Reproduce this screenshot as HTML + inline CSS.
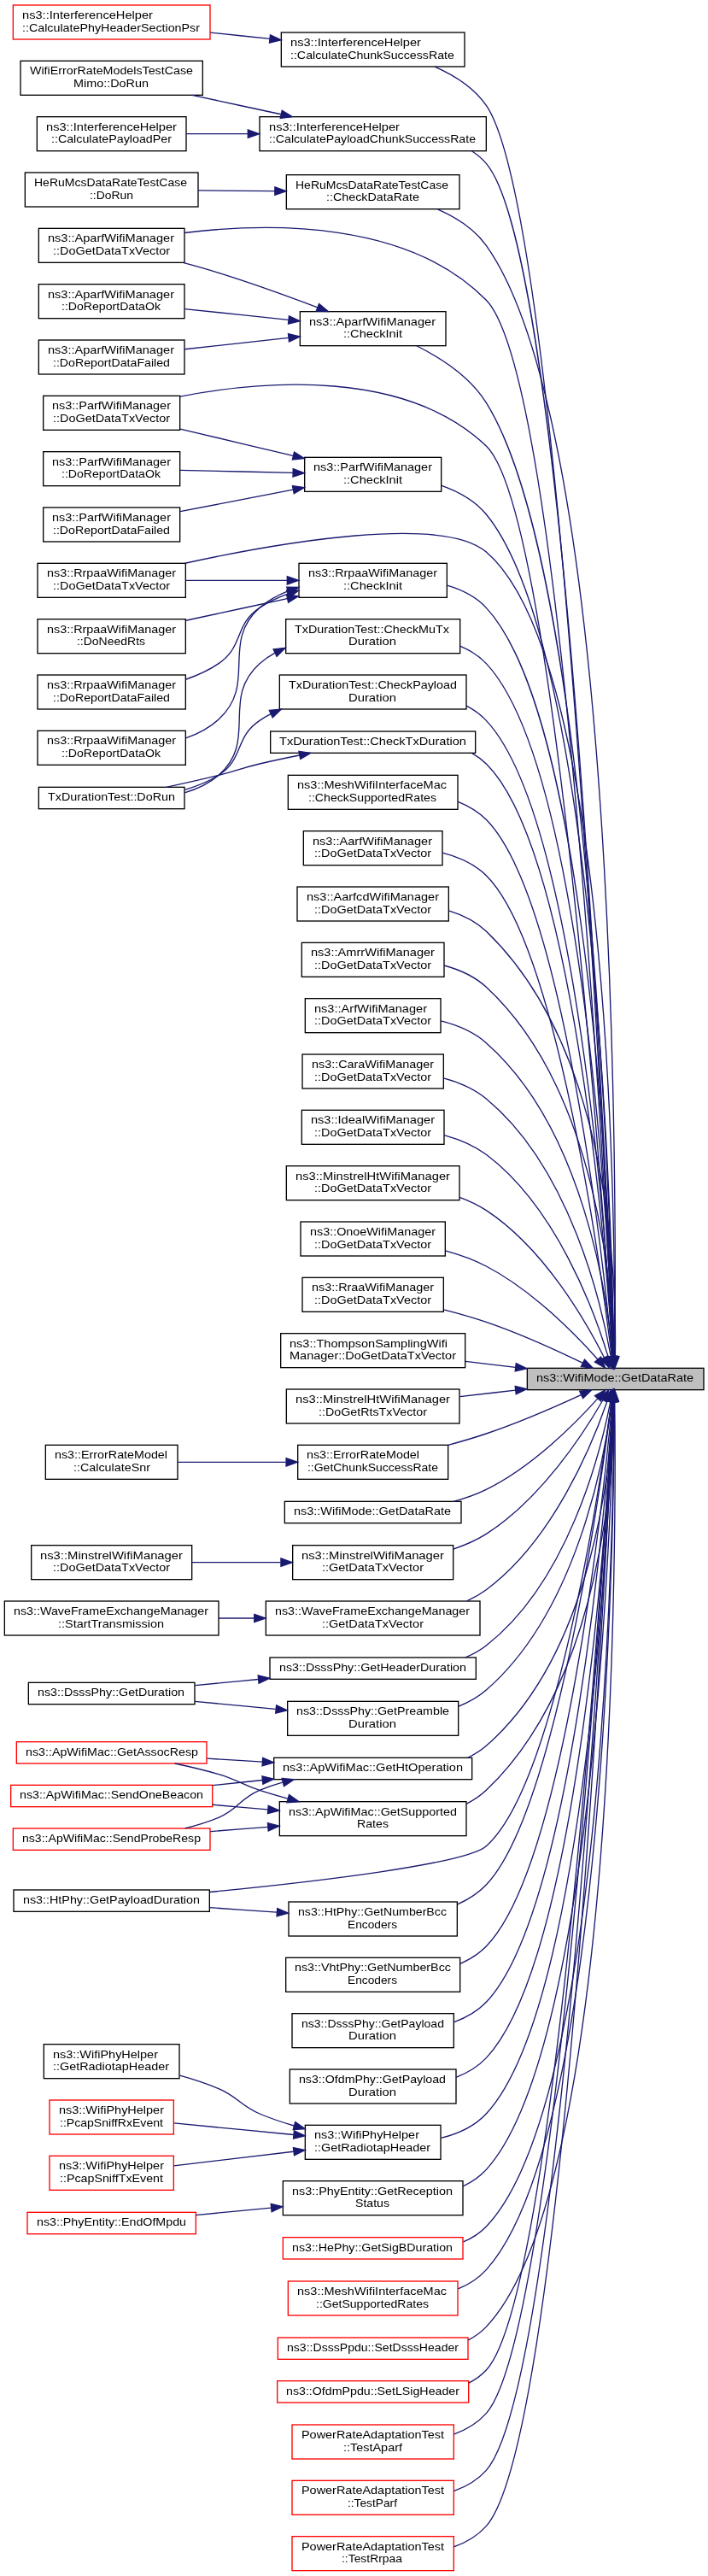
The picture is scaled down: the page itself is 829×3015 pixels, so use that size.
<!DOCTYPE html>
<html lang="en">
<head>
<meta charset="utf-8">
<title>ns3::WifiMode::GetDataRate &#8211; caller graph</title>
<style>
html,body{margin:0;padding:0;background:#fff}
body{width:829px;height:3015px}
/* own compositing layer -> grayscale (non-LCD) text antialiasing, like the cairo original */
svg{display:block;transform:translateZ(0);will-change:transform}
text{font-family:"Liberation Sans",sans-serif;font-size:10px;fill:#000}
.node rect{fill:#fff;stroke:#000;stroke-width:1}
.node.more rect{stroke:#f00}
.node.root rect{fill:#bfbfbf}
.edge path{fill:none;stroke:#191970;stroke-width:1}
.edge polygon{fill:#191970;stroke:#191970;stroke-width:1}
</style>
</head>
<body>
<svg width="829" height="3015" viewBox="0 0 621.75 2261.25">
<g transform="translate(4 2257)">
<g class="node root">
<rect x="459" y="-1056" width="155" height="19"/>
<text x="466.99" y="-1044" textLength="138.02" lengthAdjust="spacingAndGlyphs">ns3::WifiMode::GetDataRate</text>
</g>
<g class="node">
<rect x="243" y="-2228.5" width="161" height="30"/>
<text x="251" y="-2216.5" textLength="114.75" lengthAdjust="spacingAndGlyphs">ns3::InterferenceHelper</text>
<text x="250.99" y="-2205.5" textLength="144.01" lengthAdjust="spacingAndGlyphs">::CalculateChunkSuccessRate</text>
</g>
<g class="edge"><path d="M534.64,-1066.56C528.37,-1209.48 488.06,-2070.36 423,-2164.5 412.2,-2180.13 394.91,-2191.02 377.81,-2198.48"/><polygon points="538.15,-1066.39 535.09,-1056.24 531.16,-1066.08 538.15,-1066.39"/></g>
<g class="node">
<rect x="224" y="-2154.5" width="199" height="30"/>
<text x="232.25" y="-2142.5" textLength="114.75" lengthAdjust="spacingAndGlyphs">ns3::InterferenceHelper</text>
<text x="232.25" y="-2131.5" textLength="181.5" lengthAdjust="spacingAndGlyphs">::CalculatePayloadChunkSuccessRate</text>
</g>
<g class="edge"><path d="M534.75,-1066.22C529.31,-1204.91 494.06,-2030.64 423,-2113.5 419.32,-2117.8 415.01,-2121.42 410.31,-2124.48"/><polygon points="538.25,-1066.31 535.14,-1056.18 531.25,-1066.04 538.25,-1066.31"/></g>
<g class="node">
<rect x="247.5" y="-2103.5" width="152" height="30"/>
<text x="255.5" y="-2091.5" textLength="134.26" lengthAdjust="spacingAndGlyphs">HeRuMcsDataRateTestCase</text>
<text x="282.49" y="-2080.5" textLength="81.77" lengthAdjust="spacingAndGlyphs">::CheckDataRate</text>
</g>
<g class="edge"><path d="M535.8,-1066.36C537.33,-1192.05 540.15,-1877.09 423,-2041.5 412.61,-2056.08 396.47,-2066.3 380.24,-2073.4"/><polygon points="539.3,-1066.21 535.66,-1056.25 532.3,-1066.3 539.3,-1066.21"/></g>
<g class="node">
<rect x="259.5" y="-1983.5" width="128" height="30"/>
<text x="267.49" y="-1971.5" textLength="111.01" lengthAdjust="spacingAndGlyphs">ns3::AparfWifiManager</text>
<text x="297.49" y="-1960.5" textLength="51.76" lengthAdjust="spacingAndGlyphs">::CheckInit</text>
</g>
<g class="edge"><path d="M535.1,-1066.19C532.45,-1180.32 514.66,-1756.98 423,-1903.5 408.77,-1926.25 383.31,-1942.74 361.84,-1953.42"/><polygon points="538.6,-1066.18 535.32,-1056.1 531.6,-1066.02 538.6,-1066.18"/></g>
<g class="node">
<rect x="30" y="-2056.5" width="128" height="30"/>
<text x="37.99" y="-2044.5" textLength="111.01" lengthAdjust="spacingAndGlyphs">ns3::AparfWifiManager</text>
<text x="42.49" y="-2033.5" textLength="102.76" lengthAdjust="spacingAndGlyphs">::DoGetDataTxVector</text>
</g>
<g class="edge"><path d="M534.58,-1066.03C528.35,-1195.28 490.33,-1924.33 423,-1993.5 354.76,-2063.61 232.51,-2061.77 158.08,-2052.63"/><polygon points="538.08,-1066.16 535.06,-1056 531.09,-1065.83 538.08,-1066.16"/></g>
<g class="node">
<rect x="263.5" y="-1855.5" width="120" height="30"/>
<text x="271.24" y="-1843.5" textLength="104.26" lengthAdjust="spacingAndGlyphs">ns3::ParfWifiManager</text>
<text x="297.49" y="-1832.5" textLength="51.76" lengthAdjust="spacingAndGlyphs">::CheckInit</text>
</g>
<g class="edge"><path d="M535.24,-1066.24C533.45,-1173.72 519.85,-1687.74 423,-1805.5 413.03,-1817.62 398.55,-1825.55 383.75,-1830.73"/><polygon points="538.74,-1066.21 535.39,-1056.15 531.74,-1066.1 538.74,-1066.21"/></g>
<g class="node">
<rect x="34" y="-1909.5" width="120" height="30"/>
<text x="41.74" y="-1897.5" textLength="104.26" lengthAdjust="spacingAndGlyphs">ns3::ParfWifiManager</text>
<text x="42.49" y="-1886.5" textLength="102.76" lengthAdjust="spacingAndGlyphs">::DoGetDataTxVector</text>
</g>
<g class="edge"><path d="M534.24,-1066.31C526.43,-1185.88 483.08,-1808.25 423,-1865.5 351.61,-1933.52 227.5,-1923.04 154.14,-1908.97"/><polygon points="537.75,-1066.28 534.9,-1056.07 530.76,-1065.83 537.75,-1066.28"/></g>
<g class="node">
<rect x="258.5" y="-1762.5" width="130" height="30"/>
<text x="266.74" y="-1750.5" textLength="113.26" lengthAdjust="spacingAndGlyphs">ns3::RrpaaWifiManager</text>
<text x="297.49" y="-1739.5" textLength="51.76" lengthAdjust="spacingAndGlyphs">::CheckInit</text>
</g>
<g class="edge"><path d="M535.05,-1066.45C532.34,-1167.77 515.1,-1624.28 423,-1723.5 413.9,-1733.3 401.52,-1739.4 388.61,-1743.13"/><polygon points="538.55,-1066.45 535.3,-1056.36 531.55,-1066.27 538.55,-1066.45"/></g>
<g class="node">
<rect x="29" y="-1762.5" width="130" height="30"/>
<text x="37.24" y="-1750.5" textLength="113.26" lengthAdjust="spacingAndGlyphs">ns3::RrpaaWifiManager</text>
<text x="42.49" y="-1739.5" textLength="102.76" lengthAdjust="spacingAndGlyphs">::DoGetDataTxVector</text>
</g>
<g class="edge"><path d="M535.71,-1066.31C536.4,-1172.99 533.73,-1677.61 423,-1772.5 384.62,-1805.39 242.52,-1780.85 158.46,-1762.57"/><polygon points="539.21,-1066.25 535.63,-1056.28 532.21,-1066.31 539.21,-1066.25"/></g>
<g class="node">
<rect x="247" y="-1713.5" width="153" height="30"/>
<text x="254.75" y="-1701.5" textLength="135.75" lengthAdjust="spacingAndGlyphs">TxDurationTest::CheckMuTx</text>
<text x="301.97" y="-1690.5" textLength="42.06" lengthAdjust="spacingAndGlyphs">Duration</text>
</g>
<g class="edge"><path d="M534.78,-1066.21C530.83,-1162.57 508.84,-1583.19 423,-1674.5 416.61,-1681.3 408.64,-1686.31 400.03,-1689.98"/><polygon points="538.28,-1066.24 535.17,-1056.11 531.28,-1065.96 538.28,-1066.24"/></g>
<g class="node">
<rect x="241.5" y="-1664.5" width="164" height="30"/>
<text x="249.5" y="-1652.5" textLength="147.75" lengthAdjust="spacingAndGlyphs">TxDurationTest::CheckPayload</text>
<text x="301.97" y="-1641.5" textLength="42.06" lengthAdjust="spacingAndGlyphs">Duration</text>
</g>
<g class="edge"><path d="M534.42,-1066.34C529.01,-1158.17 501.96,-1540.96 423,-1624.5 418.03,-1629.76 412.13,-1633.97 405.72,-1637.34"/><polygon points="537.92,-1066.39 535,-1056.2 530.93,-1065.99 537.92,-1066.39"/></g>
<g class="node">
<rect x="249" y="-1576.5" width="149" height="30"/>
<text x="257" y="-1564.5" textLength="131.27" lengthAdjust="spacingAndGlyphs">ns3::MeshWifiInterfaceMac</text>
<text x="266.74" y="-1553.5" textLength="112.51" lengthAdjust="spacingAndGlyphs">::CheckSupportedRates</text>
</g>
<g class="edge"><path d="M533.69,-1066.46C525.73,-1149.74 491.18,-1468.37 423,-1537.5 416.08,-1544.52 407.47,-1549.61 398.25,-1553.29"/><polygon points="537.19,-1066.61 534.63,-1056.32 530.22,-1065.95 537.19,-1066.61"/></g>
<g class="node">
<rect x="233.5" y="-1615" width="180" height="19"/>
<text x="241.25" y="-1603" textLength="164.25" lengthAdjust="spacingAndGlyphs">TxDurationTest::CheckTxDuration</text>
</g>
<g class="edge"><path d="M534.24,-1066.24C528.22,-1154.42 499.38,-1511.24 423,-1586.5 419.28,-1590.17 415.08,-1593.24 410.56,-1595.8"/><polygon points="537.75,-1066.25 534.92,-1056.04 530.77,-1065.78 537.75,-1066.25"/></g>
<g class="node">
<rect x="262.5" y="-1527.5" width="122" height="30"/>
<text x="270.49" y="-1515.5" textLength="105.01" lengthAdjust="spacingAndGlyphs">ns3::AarfWifiManager</text>
<text x="271.99" y="-1504.5" textLength="102.76" lengthAdjust="spacingAndGlyphs">::DoGetDataTxVector</text>
</g>
<g class="edge"><path d="M533.15,-1066.42C523.56,-1144.33 484.96,-1427.17 423,-1488.5 412.68,-1498.72 398.78,-1504.84 384.68,-1508.45"/><polygon points="536.67,-1066.45 534.4,-1056.1 529.72,-1065.61 536.67,-1066.45"/></g>
<g class="node">
<rect x="257" y="-1478.5" width="133" height="30"/>
<text x="265.25" y="-1466.5" textLength="116.25" lengthAdjust="spacingAndGlyphs">ns3::AarfcdWifiManager</text>
<text x="271.99" y="-1455.5" textLength="102.76" lengthAdjust="spacingAndGlyphs">::DoGetDataTxVector</text>
</g>
<g class="edge"><path d="M536.26,-1066.54C537.53,-1130.92 532.35,-1334.41 423,-1439.5 413.93,-1448.22 402.24,-1453.94 390.1,-1457.66"/><polygon points="539.75,-1066.09 535.97,-1056.19 532.75,-1066.28 539.75,-1066.09"/></g>
<g class="node">
<rect x="261" y="-1429.5" width="125" height="30"/>
<text x="268.99" y="-1417.5" textLength="108.76" lengthAdjust="spacingAndGlyphs">ns3::AmrrWifiManager</text>
<text x="271.99" y="-1406.5" textLength="102.76" lengthAdjust="spacingAndGlyphs">::DoGetDataTxVector</text>
</g>
<g class="edge"><path d="M535.31,-1066.35C533.62,-1125.25 520.26,-1300.46 423,-1390.5 412.8,-1399.95 399.51,-1405.85 386.02,-1409.49"/><polygon points="538.81,-1066.25 535.51,-1056.19 531.81,-1066.11 538.81,-1066.25"/></g>
<g class="node">
<rect x="264" y="-1380.5" width="119" height="30"/>
<text x="271.99" y="-1368.5" textLength="99.01" lengthAdjust="spacingAndGlyphs">ns3::ArfWifiManager</text>
<text x="271.99" y="-1357.5" textLength="102.76" lengthAdjust="spacingAndGlyphs">::DoGetDataTxVector</text>
</g>
<g class="edge"><path d="M534.09,-1066.31C529.19,-1119.48 508.22,-1266.35 423,-1341.5 411.91,-1351.28 397.49,-1357.22 383.13,-1360.8"/><polygon points="537.59,-1066.44 534.92,-1056.19 530.61,-1065.87 537.59,-1066.44"/></g>
<g class="node">
<rect x="261.5" y="-1331.5" width="124" height="30"/>
<text x="269.74" y="-1319.5" textLength="107.26" lengthAdjust="spacingAndGlyphs">ns3::CaraWifiManager</text>
<text x="271.99" y="-1308.5" textLength="102.76" lengthAdjust="spacingAndGlyphs">::DoGetDataTxVector</text>
</g>
<g class="edge"><path d="M532.45,-1066.11C524.11,-1112.93 496.42,-1231.85 423,-1292.5 412.35,-1301.3 398.97,-1306.96 385.53,-1310.58"/><polygon points="535.94,-1066.51 534.14,-1056.07 529.03,-1065.36 535.94,-1066.51"/></g>
<g class="node">
<rect x="261" y="-1282.5" width="125" height="30"/>
<text x="268.99" y="-1270.5" textLength="108.76" lengthAdjust="spacingAndGlyphs">ns3::IdealWifiManager</text>
<text x="271.99" y="-1259.5" textLength="102.76" lengthAdjust="spacingAndGlyphs">::DoGetDataTxVector</text>
</g>
<g class="edge"><path d="M530.12,-1065.92C518.03,-1105.77 484.83,-1196.94 423,-1243.5 412.24,-1251.6 399.12,-1257 386.01,-1260.6"/><polygon points="533.53,-1066.7 532.97,-1056.12 526.81,-1064.74 533.53,-1066.7"/></g>
<g class="node">
<rect x="247.5" y="-1233.5" width="152" height="30"/>
<text x="255.5" y="-1221.5" textLength="135.75" lengthAdjust="spacingAndGlyphs">ns3::MinstrelHtWifiManager</text>
<text x="271.99" y="-1210.5" textLength="102.76" lengthAdjust="spacingAndGlyphs">::DoGetDataTxVector</text>
</g>
<g class="edge"><path d="M526.57,-1065.4C510.51,-1097.23 473.67,-1161.31 423,-1194.5 415.86,-1199.18 407.89,-1202.94 399.66,-1205.98"/><polygon points="529.78,-1066.8 531.04,-1056.28 523.5,-1063.72 529.78,-1066.8"/></g>
<g class="node">
<rect x="260" y="-1184.5" width="127" height="30"/>
<text x="268.24" y="-1172.5" textLength="110.26" lengthAdjust="spacingAndGlyphs">ns3::OnoeWifiManager</text>
<text x="271.99" y="-1161.5" textLength="102.76" lengthAdjust="spacingAndGlyphs">::DoGetDataTxVector</text>
</g>
<g class="edge"><path d="M520.86,-1063.76C500.99,-1086.06 463.3,-1124.5 423,-1145.5 411.92,-1151.27 399.41,-1155.69 387.11,-1159.06"/><polygon points="523.63,-1065.91 527.57,-1056.08 518.36,-1061.31 523.63,-1065.91"/></g>
<g class="node">
<rect x="261.5" y="-1135.5" width="124" height="30"/>
<text x="269.74" y="-1123.5" textLength="107.26" lengthAdjust="spacingAndGlyphs">ns3::RraaWifiManager</text>
<text x="271.99" y="-1112.5" textLength="102.76" lengthAdjust="spacingAndGlyphs">::DoGetDataTxVector</text>
</g>
<g class="edge"><path d="M507.55,-1060.61C485.13,-1071.51 452.6,-1086.41 423,-1096.5 411.09,-1100.56 398.15,-1104.23 385.68,-1107.4"/><polygon points="509.38,-1063.61 516.81,-1056.05 506.29,-1057.33 509.38,-1063.61"/></g>
<g class="node">
<rect x="242.5" y="-1086.5" width="162" height="30"/>
<text x="250.24" y="-1074.5" textLength="138.77" lengthAdjust="spacingAndGlyphs">ns3::ThompsonSamplingWifi</text>
<text x="250.25" y="-1063.5" textLength="146.25" lengthAdjust="spacingAndGlyphs">Manager::DoGetDataTxVector</text>
</g>
<g class="edge"><path d="M448.74,-1056.78C434.19,-1058.5 419.15,-1060.29 404.76,-1061.99"/><polygon points="449.21,-1060.25 458.73,-1055.6 448.38,-1053.3 449.21,-1060.25"/></g>
<g class="node">
<rect x="247.5" y="-1037.5" width="152" height="30"/>
<text x="255.5" y="-1025.5" textLength="135.75" lengthAdjust="spacingAndGlyphs">ns3::MinstrelHtWifiManager</text>
<text x="275.74" y="-1014.5" textLength="95.26" lengthAdjust="spacingAndGlyphs">::DoGetRtsTxVector</text>
</g>
<g class="edge"><path d="M448.72,-1036.63C432.49,-1034.78 415.65,-1032.87 399.8,-1031.07"/><polygon points="448.4,-1040.11 458.73,-1037.77 449.19,-1033.16 448.4,-1040.11"/></g>
<g class="node">
<rect x="257.5" y="-988.5" width="132" height="30"/>
<text x="265.24" y="-976.5" textLength="99.02" lengthAdjust="spacingAndGlyphs">ns3::ErrorRateModel</text>
<text x="265.99" y="-965.5" textLength="114.77" lengthAdjust="spacingAndGlyphs">::GetChunkSuccessRate</text>
</g>
<g class="edge"><path d="M506.25,-1032.54C483.82,-1022.2 451.91,-1008.27 423,-998.5 412.3,-994.88 400.8,-991.51 389.56,-988.49"/><polygon points="505,-1035.82 515.54,-1036.87 507.96,-1029.47 505,-1035.82"/></g>
<g class="node">
<rect x="246" y="-939" width="155" height="19"/>
<text x="253.99" y="-927" textLength="138.02" lengthAdjust="spacingAndGlyphs">ns3::WifiMode::GetDataRate</text>
</g>
<g class="edge"><path d="M520.9,-1029.36C501.08,-1007.27 463.45,-969.34 423,-949.5 414.07,-945.12 404.23,-941.7 394.34,-939.03"/><polygon points="518.37,-1031.78 527.6,-1036.98 523.63,-1027.16 518.37,-1031.78"/></g>
<g class="node">
<rect x="253" y="-900.5" width="141" height="30"/>
<text x="260.75" y="-888.5" textLength="125.25" lengthAdjust="spacingAndGlyphs">ns3::MinstrelWifiManager</text>
<text x="278.74" y="-877.5" textLength="89.26" lengthAdjust="spacingAndGlyphs">::GetDataTxVector</text>
</g>
<g class="edge"><path d="M525.42,-1027.95C508.36,-998.38 470.93,-940.82 423,-910.5 414.2,-904.93 404.23,-900.61 394.09,-897.24"/><polygon points="522.45,-1029.82 530.41,-1036.83 528.56,-1026.39 522.45,-1029.82"/></g>
<g class="node">
<rect x="229.5" y="-851.5" width="188" height="30"/>
<text x="237.5" y="-839.5" textLength="171" lengthAdjust="spacingAndGlyphs">ns3::WaveFrameExchangeManager</text>
<text x="278.74" y="-828.5" textLength="89.26" lengthAdjust="spacingAndGlyphs">::GetDataTxVector</text>
</g>
<g class="edge"><path d="M529.19,-1026.75C515.96,-988.62 481.6,-904.82 423,-861.5 417.75,-857.62 411.96,-854.34 405.9,-851.57"/><polygon points="526,-1028.25 532.49,-1036.62 532.64,-1026.03 526,-1028.25"/></g>
<g class="node">
<rect x="233" y="-802" width="181" height="19"/>
<text x="241.24" y="-790" textLength="164.26" lengthAdjust="spacingAndGlyphs">ns3::DsssPhy::GetHeaderDuration</text>
</g>
<g class="edge"><path d="M532.11,-1026.71C523.18,-981.11 494.63,-868.27 423,-812.5 417.49,-808.21 411.3,-804.78 404.77,-802.03"/><polygon points="528.66,-1027.36 533.92,-1036.55 535.55,-1026.08 528.66,-1027.36"/></g>
<g class="node">
<rect x="236.5" y="-714" width="174" height="19"/>
<text x="244.24" y="-702" textLength="158.26" lengthAdjust="spacingAndGlyphs">ns3::ApWifiMac::GetHtOperation</text>
</g>
<g class="edge"><path d="M534.97,-1026.61C532.31,-969.88 516.5,-806.09 423,-724.5 418.14,-720.25 412.62,-716.82 406.74,-714.05"/><polygon points="531.48,-1026.89 535.35,-1036.75 538.47,-1026.63 531.48,-1026.89"/></g>
<g class="node">
<rect x="249.5" y="-587.5" width="148" height="30"/>
<text x="257.75" y="-575.5" textLength="130.5" lengthAdjust="spacingAndGlyphs">ns3::HtPhy::GetNumberBcc</text>
<text x="301.24" y="-564.5" textLength="43.53" lengthAdjust="spacingAndGlyphs">Encoders</text>
</g>
<g class="edge"><path d="M533.06,-1026.59C523.13,-948.71 483.42,-665.86 423,-602.5 415.97,-595.13 407.18,-589.55 397.78,-585.33"/><polygon points="529.64,-1027.42 534.35,-1036.91 536.58,-1026.55 529.64,-1027.42"/></g>
<g class="node">
<rect x="8" y="-598" width="172" height="19"/>
<text x="16.24" y="-586" textLength="155.26" lengthAdjust="spacingAndGlyphs">ns3::HtPhy::GetPayloadDuration</text>
</g>
<g class="edge"><path d="M532.89,-1026.43C522.76,-951.54 483.49,-690 423,-636.5 405.03,-620.61 271.31,-605.05 180.25,-596.14"/><polygon points="529.48,-1027.33 534.27,-1036.78 536.42,-1026.41 529.48,-1027.33"/></g>
<g class="node">
<rect x="247" y="-538.5" width="153" height="30"/>
<text x="254.74" y="-526.5" textLength="137.26" lengthAdjust="spacingAndGlyphs">ns3::VhtPhy::GetNumberBcc</text>
<text x="301.24" y="-515.5" textLength="43.53" lengthAdjust="spacingAndGlyphs">Encoders</text>
</g>
<g class="edge"><path d="M533.76,-1026.81C526,-943.28 491.81,-619.15 423,-548.5 416.6,-541.93 408.73,-536.99 400.26,-533.3"/><polygon points="530.29,-1027.31 534.68,-1036.95 537.26,-1026.68 530.29,-1027.31"/></g>
<g class="node">
<rect x="252.5" y="-489.5" width="142" height="30"/>
<text x="260.74" y="-477.5" textLength="125.27" lengthAdjust="spacingAndGlyphs">ns3::DsssPhy::GetPayload</text>
<text x="301.97" y="-466.5" textLength="42.06" lengthAdjust="spacingAndGlyphs">Duration</text>
</g>
<g class="edge"><path d="M534.2,-1026.88C527.93,-938.49 498.07,-578.08 423,-499.5 415.32,-491.46 405.46,-485.87 394.95,-482"/><polygon points="530.71,-1027.16 534.89,-1036.89 537.69,-1026.68 530.71,-1027.16"/></g>
<g class="node">
<rect x="250.5" y="-440.5" width="146" height="30"/>
<text x="258.49" y="-428.5" textLength="129.02" lengthAdjust="spacingAndGlyphs">ns3::OfdmPhy::GetPayload</text>
<text x="301.97" y="-417.5" textLength="42.06" lengthAdjust="spacingAndGlyphs">Duration</text>
</g>
<g class="edge"><path d="M534.56,-1026.93C529.69,-933.88 504.34,-537.05 423,-450.5 415.75,-442.79 406.49,-437.32 396.56,-433.46"/><polygon points="531.06,-1027.14 535.06,-1036.95 538.05,-1026.78 531.06,-1027.14"/></g>
<g class="node">
<rect x="248.5" y="-763.5" width="150" height="30"/>
<text x="256.24" y="-751.5" textLength="134.26" lengthAdjust="spacingAndGlyphs">ns3::DsssPhy::GetPreamble</text>
<text x="301.97" y="-740.5" textLength="42.06" lengthAdjust="spacingAndGlyphs">Duration</text>
</g>
<g class="edge"><path d="M533.34,-1026.53C526.79,-976.03 502.42,-842.35 423,-773.5 415.93,-767.37 407.57,-762.71 398.75,-759.17"/><polygon points="529.9,-1027.24 534.57,-1036.75 536.85,-1026.4 529.9,-1027.24"/></g>
<g class="node">
<rect x="264" y="-391.5" width="119" height="30"/>
<text x="271.99" y="-379.5" textLength="92.26" lengthAdjust="spacingAndGlyphs">ns3::WifiPhyHelper</text>
<text x="271.99" y="-368.5" textLength="102.01" lengthAdjust="spacingAndGlyphs">::GetRadiotapHeader</text>
</g>
<g class="edge"><path d="M534.85,-1026.58C531.24,-928.29 510.52,-495.93 423,-401.5 412.63,-390.31 398.02,-383.82 383.22,-380.15"/><polygon points="531.35,-1026.77 535.2,-1036.64 538.35,-1026.53 531.35,-1026.77"/></g>
<g class="node">
<rect x="244.5" y="-342.5" width="158" height="30"/>
<text x="252.49" y="-330.5" textLength="141.02" lengthAdjust="spacingAndGlyphs">ns3::PhyEntity::GetReception</text>
<text x="307.98" y="-319.5" textLength="30.06" lengthAdjust="spacingAndGlyphs">Status</text>
</g>
<g class="edge"><path d="M535.12,-1026.72C532.76,-924.3 516.86,-454.99 423,-352.5 417.28,-346.25 410.24,-341.47 402.58,-337.82"/><polygon points="531.63,-1026.96 535.34,-1036.89 538.62,-1026.81 531.63,-1026.96"/></g>
<g class="node more">
<rect x="244.5" y="-293" width="158" height="19"/>
<text x="252.49" y="-281" textLength="141.02" lengthAdjust="spacingAndGlyphs">ns3::HePhy::GetSigBDuration</text>
</g>
<g class="edge"><path d="M535.46,-1026.55C534.85,-919.12 526.45,-410.23 423,-302.5 417.33,-296.6 410.42,-292.22 402.92,-289.01"/><polygon points="531.96,-1026.67 535.5,-1036.66 538.96,-1026.64 531.96,-1026.67"/></g>
<g class="node">
<rect x="241.5" y="-675.5" width="164" height="30"/>
<text x="249.49" y="-663.5" textLength="147.77" lengthAdjust="spacingAndGlyphs">ns3::ApWifiMac::GetSupported</text>
<text x="309.45" y="-652.5" textLength="27.84" lengthAdjust="spacingAndGlyphs">Rates</text>
</g>
<g class="edge"><path d="M535.63,-1026.93C534.9,-966.53 524.16,-781.38 423,-685.5 417.88,-680.65 411.95,-676.7 405.6,-673.49"/><polygon points="532.13,-1027.01 535.66,-1036.99 539.13,-1026.98 532.13,-1027.01"/></g>
<g class="node more">
<rect x="249" y="-254.5" width="149" height="30"/>
<text x="257" y="-242.5" textLength="131.27" lengthAdjust="spacingAndGlyphs">ns3::MeshWifiInterfaceMac</text>
<text x="273.49" y="-231.5" textLength="99.01" lengthAdjust="spacingAndGlyphs">::GetSupportedRates</text>
</g>
<g class="edge"><path d="M535.52,-1026.7C535.2,-916.7 528.21,-381.46 423,-264.5 416.27,-257.02 407.66,-251.64 398.33,-247.78"/><polygon points="532.02,-1027 535.53,-1036.99 539.02,-1026.99 532.02,-1027"/></g>
<g class="node more">
<rect x="240" y="-205" width="167" height="19"/>
<text x="248" y="-193" textLength="150.75" lengthAdjust="spacingAndGlyphs">ns3::DsssPpdu::SetDsssHeader</text>
</g>
<g class="edge"><path d="M535.81,-1026.77C537.2,-912.52 538.32,-336.49 423,-214.5 418.45,-209.69 413.09,-205.89 407.24,-202.91"/><polygon points="532.31,-1026.83 535.67,-1036.87 539.31,-1026.92 532.31,-1026.83"/></g>
<g class="node more">
<rect x="239.5" y="-167" width="168" height="19"/>
<text x="247.25" y="-155" textLength="152.25" lengthAdjust="spacingAndGlyphs">ns3::OfdmPpdu::SetLSigHeader</text>
</g>
<g class="edge"><path d="M534.32,-1026.72C526.74,-903.18 483.5,-240.87 423,-176.5 418.59,-171.8 413.39,-168.07 407.73,-165.12"/><polygon points="530.84,-1027.18 534.94,-1036.95 537.82,-1026.76 530.84,-1027.18"/></g>
<g class="node more">
<rect x="252.5" y="-128.5" width="142" height="30"/>
<text x="260.75" y="-116.5" textLength="125.25" lengthAdjust="spacingAndGlyphs">PowerRateAdaptationTest</text>
<text x="297.49" y="-105.5" textLength="51.76" lengthAdjust="spacingAndGlyphs">::TestAparf</text>
</g>
<g class="edge"><path d="M534.37,-1026.69C527,-900.11 484.07,-207.74 423,-138.5 415.41,-129.9 405.33,-124.05 394.51,-120.12"/><polygon points="530.89,-1027.07 534.96,-1036.85 537.88,-1026.67 530.89,-1027.07"/></g>
<g class="node more">
<rect x="252.5" y="-79.5" width="142" height="30"/>
<text x="260.75" y="-67.5" textLength="125.25" lengthAdjust="spacingAndGlyphs">PowerRateAdaptationTest</text>
<text x="301.24" y="-56.5" textLength="43.51" lengthAdjust="spacingAndGlyphs">::TestParf</text>
</g>
<g class="edge"><path d="M534.52,-1026.82C527.88,-896.55 487.7,-161.62 423,-88.5 415.42,-79.93 405.34,-74.17 394.51,-70.34"/><polygon points="531.03,-1027.11 535.03,-1036.92 538.02,-1026.76 531.03,-1027.11"/></g>
<g class="node more">
<rect x="252.5" y="-30.5" width="142" height="30"/>
<text x="260.75" y="-18.5" textLength="125.25" lengthAdjust="spacingAndGlyphs">PowerRateAdaptationTest</text>
<text x="295.99" y="-7.5" textLength="53.26" lengthAdjust="spacingAndGlyphs">::TestRrpaa</text>
</g>
<g class="edge"><path d="M534.63,-1026.65C528.58,-892.07 490.88,-116.66 423,-39.5 415.44,-30.91 405.37,-25.14 394.55,-21.3"/><polygon points="531.14,-1026.91 535.08,-1036.75 538.13,-1026.6 531.14,-1026.91"/></g>
<g class="node more">
<rect x="7.5" y="-2252.5" width="173" height="30"/>
<text x="15.5" y="-2240.5" textLength="114.75" lengthAdjust="spacingAndGlyphs">ns3::InterferenceHelper</text>
<text x="15.5" y="-2229.5" textLength="156" lengthAdjust="spacingAndGlyphs">::CalculatePhyHeaderSectionPsr</text>
</g>
<g class="edge"><path d="M232.92,-2222.95C215.73,-2224.76 197.78,-2226.66 180.72,-2228.46"/><polygon points="233.35,-2226.42 242.93,-2221.89 232.62,-2219.46 233.35,-2226.42"/></g>
<g class="node">
<rect x="28.5" y="-2154.5" width="131" height="30"/>
<text x="36.5" y="-2142.5" textLength="114.75" lengthAdjust="spacingAndGlyphs">ns3::InterferenceHelper</text>
<text x="40.99" y="-2131.5" textLength="105.76" lengthAdjust="spacingAndGlyphs">::CalculatePayloadPer</text>
</g>
<g class="edge"><path d="M213.49,-2139.5C195.05,-2139.5 176.44,-2139.5 159.61,-2139.5"/><polygon points="213.71,-2143 223.71,-2139.5 213.71,-2136 213.71,-2143"/></g>
<g class="node">
<rect x="14" y="-2203.5" width="160" height="30"/>
<text x="22.25" y="-2191.5" textLength="143.25" lengthAdjust="spacingAndGlyphs">WifiErrorRateModelsTestCase</text>
<text x="60.48" y="-2180.5" textLength="66.04" lengthAdjust="spacingAndGlyphs">Mimo::DoRun</text>
</g>
<g class="edge"><path d="M242.71,-2156.69C217.27,-2162.16 189.34,-2168.18 164.67,-2173.49"/><polygon points="243.66,-2160.06 252.7,-2154.53 242.18,-2153.22 243.66,-2160.06"/></g>
<g class="node">
<rect x="18" y="-2105.5" width="152" height="30"/>
<text x="26" y="-2093.5" textLength="134.26" lengthAdjust="spacingAndGlyphs">HeRuMcsDataRateTestCase</text>
<text x="74.72" y="-2082.5" textLength="38.31" lengthAdjust="spacingAndGlyphs">::DoRun</text>
</g>
<g class="edge"><path d="M237.34,-2089.25C215.24,-2089.44 191.59,-2089.65 170.04,-2089.84"/><polygon points="237.41,-2092.75 247.38,-2089.16 237.35,-2085.75 237.41,-2092.75"/></g>
<g class="edge"><path d="M274.83,-1987.14C249.28,-1996.81 217.15,-2008.45 188,-2017.5 177.97,-2020.61 167.24,-2023.65 156.77,-2026.46"/><polygon points="276.18,-1990.37 284.28,-1983.54 273.69,-1983.83 276.18,-1990.37"/></g>
<g class="node">
<rect x="30" y="-1958.5" width="128" height="30"/>
<text x="37.99" y="-1946.5" textLength="111.01" lengthAdjust="spacingAndGlyphs">ns3::AparfWifiManager</text>
<text x="42.49" y="-1935.5" textLength="102.77" lengthAdjust="spacingAndGlyphs">::DoReportDataFailed</text>
</g>
<g class="edge"><path d="M249.24,-1960.45C219.91,-1957.23 186.44,-1953.55 158.19,-1950.44"/><polygon points="249.11,-1963.96 259.43,-1961.57 249.87,-1957 249.11,-1963.96"/></g>
<g class="node">
<rect x="30" y="-2007.5" width="128" height="30"/>
<text x="37.99" y="-1995.5" textLength="111.01" lengthAdjust="spacingAndGlyphs">ns3::AparfWifiManager</text>
<text x="49.99" y="-1984.5" textLength="87.01" lengthAdjust="spacingAndGlyphs">::DoReportDataOk</text>
</g>
<g class="edge"><path d="M249.24,-1976.23C219.91,-1979.32 186.44,-1982.85 158.19,-1985.83"/><polygon points="249.85,-1979.68 259.43,-1975.15 249.12,-1972.72 249.85,-1979.68"/></g>
<g class="edge"><path d="M253.26,-1856.93C221.65,-1864.44 184.59,-1873.24 154.28,-1880.43"/><polygon points="254.4,-1860.26 263.32,-1854.55 252.78,-1853.45 254.4,-1860.26"/></g>
<g class="node">
<rect x="34" y="-1811.5" width="120" height="30"/>
<text x="41.74" y="-1799.5" textLength="104.26" lengthAdjust="spacingAndGlyphs">ns3::ParfWifiManager</text>
<text x="42.49" y="-1788.5" textLength="102.77" lengthAdjust="spacingAndGlyphs">::DoReportDataFailed</text>
</g>
<g class="edge"><path d="M253.26,-1827.11C221.65,-1820.99 184.59,-1813.83 154.28,-1807.96"/><polygon points="252.84,-1830.59 263.32,-1829.05 254.17,-1823.72 252.84,-1830.59"/></g>
<g class="node">
<rect x="34" y="-1860.5" width="120" height="30"/>
<text x="41.74" y="-1848.5" textLength="104.26" lengthAdjust="spacingAndGlyphs">ns3::ParfWifiManager</text>
<text x="49.99" y="-1837.5" textLength="87.01" lengthAdjust="spacingAndGlyphs">::DoReportDataOk</text>
</g>
<g class="edge"><path d="M253.26,-1842.02C221.65,-1842.72 184.59,-1843.53 154.28,-1844.2"/><polygon points="253.4,-1845.52 263.32,-1841.8 253.25,-1838.52 253.4,-1845.52"/></g>
<g class="edge"><path d="M248.22,-1747.5C219.45,-1747.5 186.84,-1747.5 159.12,-1747.5"/><polygon points="248.22,-1751 258.22,-1747.5 248.22,-1744 248.22,-1751"/></g>
<g class="node">
<rect x="29" y="-1713.5" width="130" height="30"/>
<text x="37.24" y="-1701.5" textLength="113.26" lengthAdjust="spacingAndGlyphs">ns3::RrpaaWifiManager</text>
<text x="63.49" y="-1690.5" textLength="60.03" lengthAdjust="spacingAndGlyphs">::DoNeedRts</text>
</g>
<g class="edge"><path d="M248.22,-1731.5C219.45,-1725.31 186.84,-1718.28 159.12,-1712.31"/><polygon points="247.71,-1734.97 258.22,-1733.66 249.18,-1728.13 247.71,-1734.97"/></g>
<g class="node">
<rect x="29" y="-1664.5" width="130" height="30"/>
<text x="37.24" y="-1652.5" textLength="113.26" lengthAdjust="spacingAndGlyphs">ns3::RrpaaWifiManager</text>
<text x="42.49" y="-1641.5" textLength="102.77" lengthAdjust="spacingAndGlyphs">::DoReportDataFailed</text>
</g>
<g class="edge"><path d="M248.74,-1735.63C240,-1732.49 231.53,-1728.52 224,-1723.5 201.52,-1708.51 210.31,-1689.76 188,-1674.5 179.31,-1668.55 169.26,-1664.02 159.05,-1660.56"/><polygon points="247.71,-1738.98 258.3,-1738.73 249.86,-1732.32 247.71,-1738.98"/></g>
<g class="node">
<rect x="29" y="-1615.5" width="130" height="30"/>
<text x="37.24" y="-1603.5" textLength="113.26" lengthAdjust="spacingAndGlyphs">ns3::RrpaaWifiManager</text>
<text x="49.99" y="-1592.5" textLength="87.01" lengthAdjust="spacingAndGlyphs">::DoReportDataOk</text>
</g>
<g class="edge"><path d="M248.82,-1738.18C239.74,-1734.65 231.16,-1729.89 224,-1723.5 189.39,-1692.6 222.24,-1656.81 188,-1625.5 179.86,-1618.05 169.73,-1612.79 159.19,-1609.07"/><polygon points="247.81,-1741.54 258.41,-1741.44 250.06,-1734.91 247.81,-1741.54"/></g>
<g class="node">
<rect x="30" y="-1566" width="128" height="19"/>
<text x="38" y="-1554" textLength="111.76" lengthAdjust="spacingAndGlyphs">TxDurationTest::DoRun</text>
</g>
<g class="edge"><path d="M237.53,-1683.96C232.67,-1681.29 228.1,-1678.16 224,-1674.5 189.39,-1643.6 223.03,-1606.93 188,-1576.5 179.52,-1569.13 168.99,-1564.27 158.08,-1561.1"/><polygon points="236.03,-1687.12 246.56,-1688.28 239.05,-1680.8 236.03,-1687.12"/></g>
<g class="edge"><path d="M233.79,-1630.23C230.4,-1628.49 227.12,-1626.58 224,-1624.5 201.81,-1609.71 210.46,-1590.88 188,-1576.5 179.1,-1570.8 168.84,-1566.7 158.45,-1563.76"/><polygon points="232.46,-1633.47 243,-1634.5 235.4,-1627.12 232.46,-1633.47"/></g>
<g class="edge"><path d="M258.82,-1594C247.2,-1591.68 235.21,-1589.13 224,-1586.5 207.83,-1582.7 204.12,-1580.47 188,-1576.5 173.09,-1572.83 156.73,-1569.19 141.96,-1566.03"/><polygon points="258.43,-1597.48 268.91,-1595.97 259.77,-1590.61 258.43,-1597.48"/></g>
<g class="node">
<rect x="36" y="-988.5" width="116" height="30"/>
<text x="43.99" y="-976.5" textLength="99.02" lengthAdjust="spacingAndGlyphs">ns3::ErrorRateModel</text>
<text x="60.49" y="-965.5" textLength="67.51" lengthAdjust="spacingAndGlyphs">::CalculateSnr</text>
</g>
<g class="edge"><path d="M246.99,-973.5C216.04,-973.5 180.82,-973.5 152.08,-973.5"/><polygon points="247.31,-977 257.31,-973.5 247.31,-970 247.31,-977"/></g>
<g class="node">
<rect x="23.5" y="-900.5" width="141" height="30"/>
<text x="31.25" y="-888.5" textLength="125.25" lengthAdjust="spacingAndGlyphs">ns3::MinstrelWifiManager</text>
<text x="42.49" y="-877.5" textLength="102.76" lengthAdjust="spacingAndGlyphs">::DoGetDataTxVector</text>
</g>
<g class="edge"><path d="M242.37,-885.5C217.02,-885.5 189.23,-885.5 164.67,-885.5"/><polygon points="242.7,-889 252.7,-885.5 242.7,-882 242.7,-889"/></g>
<g class="node">
<rect x="0" y="-851.5" width="188" height="30"/>
<text x="8" y="-839.5" textLength="171" lengthAdjust="spacingAndGlyphs">ns3::WaveFrameExchangeManager</text>
<text x="46.99" y="-828.5" textLength="93.02" lengthAdjust="spacingAndGlyphs">::StartTransmission</text>
</g>
<g class="edge"><path d="M219.03,-836.5C208.7,-836.5 198.26,-836.5 188.04,-836.5"/><polygon points="219.31,-840 229.31,-836.5 219.31,-833 219.31,-840"/></g>
<g class="node">
<rect x="21" y="-780" width="146" height="19"/>
<text x="28.99" y="-768" textLength="129.02" lengthAdjust="spacingAndGlyphs">ns3::DsssPhy::GetDuration</text>
</g>
<g class="edge"><path d="M222.89,-782.87C204.2,-781.06 184.98,-779.2 167.31,-777.49"/><polygon points="222.62,-786.36 232.91,-783.84 223.3,-779.39 222.62,-786.36"/></g>
<g class="node more">
<rect x="10.5" y="-728" width="167" height="19"/>
<text x="18.49" y="-716" textLength="151.51" lengthAdjust="spacingAndGlyphs">ns3::ApWifiMac::GetAssocResp</text>
</g>
<g class="edge"><path d="M226.48,-710.41C210.27,-711.41 193.57,-712.43 177.74,-713.41"/><polygon points="226.73,-713.9 236.49,-709.79 226.3,-706.91 226.73,-713.9"/></g>
<g class="node more">
<rect x="5.5" y="-690" width="177" height="19"/>
<text x="13.24" y="-678" textLength="161.26" lengthAdjust="spacingAndGlyphs">ns3::ApWifiMac::SendOneBeacon</text>
</g>
<g class="edge"><path d="M226.5,-694.37C211.95,-692.84 197,-691.26 182.64,-689.75"/><polygon points="226.18,-697.86 236.49,-695.43 226.91,-690.9 226.18,-697.86"/></g>
<g class="node more">
<rect x="7.5" y="-652" width="173" height="19"/>
<text x="15.5" y="-640" textLength="156.75" lengthAdjust="spacingAndGlyphs">ns3::ApWifiMac::SendProbeResp</text>
</g>
<g class="edge"><path d="M244.04,-692.34C237.16,-690.38 230.39,-688.12 224,-685.5 206.21,-678.2 205.75,-668.9 188,-661.5 178.72,-657.63 168.58,-654.53 158.52,-652.05"/><polygon points="243.61,-695.85 254.17,-694.99 245.38,-689.07 243.61,-695.85"/></g>
<g class="edge"><path d="M239.09,-578.37C219.96,-579.71 199.59,-581.14 180.38,-582.5"/><polygon points="239.54,-581.84 249.27,-577.65 239.04,-574.86 239.54,-581.84"/></g>
<g class="edge"><path d="M238.1,-756.66C214.78,-758.92 189.69,-761.34 167.14,-763.52"/><polygon points="238.71,-760.12 248.32,-755.67 238.03,-753.15 238.71,-760.12"/></g>
<g class="node">
<rect x="34.5" y="-462.5" width="119" height="30"/>
<text x="42.49" y="-450.5" textLength="92.26" lengthAdjust="spacingAndGlyphs">ns3::WifiPhyHelper</text>
<text x="42.49" y="-439.5" textLength="102.01" lengthAdjust="spacingAndGlyphs">::GetRadiotapHeader</text>
</g>
<g class="edge"><path d="M254.19,-390.99C243.9,-393.99 233.55,-397.48 224,-401.5 206.72,-408.78 205.27,-416.19 188,-423.5 177.25,-428.05 165.43,-431.91 153.92,-435.11"/><polygon points="255.29,-394.32 264,-388.27 253.42,-387.57 255.29,-394.32"/></g>
<g class="node more">
<rect x="39.5" y="-413.5" width="109" height="30"/>
<text x="47.74" y="-401.5" textLength="92.26" lengthAdjust="spacingAndGlyphs">ns3::WifiPhyHelper</text>
<text x="48.49" y="-390.5" textLength="90.76" lengthAdjust="spacingAndGlyphs">::PcapSniffRxEvent</text>
</g>
<g class="edge"><path d="M253.68,-383.15C220.02,-386.41 180.09,-390.27 148.71,-393.31"/><polygon points="254.3,-386.61 263.91,-382.17 253.62,-379.64 254.3,-386.61"/></g>
<g class="node more">
<rect x="39.5" y="-364.5" width="109" height="30"/>
<text x="47.74" y="-352.5" textLength="92.26" lengthAdjust="spacingAndGlyphs">ns3::WifiPhyHelper</text>
<text x="48.49" y="-341.5" textLength="90.76" lengthAdjust="spacingAndGlyphs">::PcapSniffTxEvent</text>
</g>
<g class="edge"><path d="M253.68,-368.33C220.02,-364.34 180.09,-359.6 148.71,-355.87"/><polygon points="253.57,-371.84 263.91,-369.55 254.4,-364.89 253.57,-371.84"/></g>
<g class="node more">
<rect x="20" y="-315" width="148" height="19"/>
<text x="28.24" y="-303" textLength="131.27" lengthAdjust="spacingAndGlyphs">ns3::PhyEntity::EndOfMpdu</text>
</g>
<g class="edge"><path d="M233.96,-318.94C212.16,-316.83 189.06,-314.6 168.08,-312.57"/><polygon points="233.92,-322.45 244.21,-319.93 234.59,-315.48 233.92,-322.45"/></g>
<g class="edge"><path d="M248.77,-678.16C240.37,-680.49 231.97,-682.95 224,-685.5 207.65,-690.73 204.47,-694.65 188,-699.5 175.67,-703.13 162.22,-706.31 149.48,-708.98"/><polygon points="249.85,-681.5 258.59,-675.51 248.03,-674.74 249.85,-681.5"/></g>
<g class="edge"><path d="M230.97,-668.55C215.04,-669.95 198.51,-671.4 182.69,-672.79"/><polygon points="231.68,-672 241.33,-667.64 231.06,-665.03 231.68,-672"/></g>
<g class="edge"><path d="M231.09,-653.27C214.47,-651.95 197.2,-650.59 180.76,-649.29"/><polygon points="231.09,-656.78 241.33,-654.08 231.64,-649.8 231.09,-656.78"/></g>
</g>
</svg>
</body>
</html>
